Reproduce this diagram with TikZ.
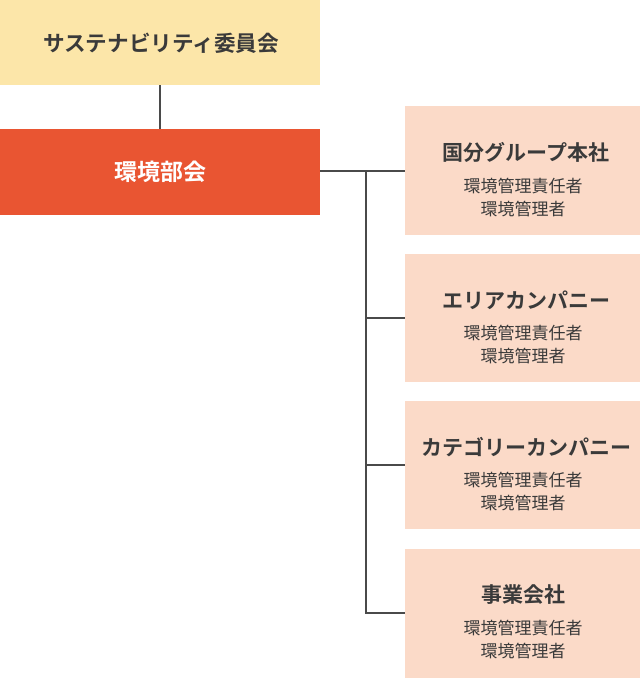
\documentclass[tikz,border=0pt]{standalone}
\usepackage{fontspec}
\setmainfont{Noto Sans CJK JP}
\newfontfamily\jpbold{Noto Sans CJK JP Bold}
\definecolor{cyellow}{HTML}{FCE6A9}
\definecolor{cred}{HTML}{E95532}
\definecolor{cpeach}{HTML}{FBDAC8}
\definecolor{ctext}{HTML}{3A3A3A}
\definecolor{cline}{HTML}{4A4A4A}
\tikzset{
  box/.style={draw=none, inner sep=0pt, outer sep=0pt, anchor=north west},
  ttl/.style={font=\jpbold\fontsize{21}{25}\selectfont, text=ctext},
  sub/.style={font=\fontsize{17}{20}\selectfont, text=ctext},
  conn/.style={draw=cline, line width=1.4pt},
}
\begin{document}
\begin{tikzpicture}[x=1pt,y=-1pt]
\useasboundingbox (0,0) rectangle (640,678);
% top box
\node[box, fill=cyellow, minimum width=320pt, minimum height=85pt] (iinkai) at (0,0) {};
\node[ttl, font=\jpbold\fontsize{21.6}{25}\selectfont] (iinkaiT) at (161,43) {サステナビリティ委員会};
% red box
\node[box, fill=cred, minimum width=320pt, minimum height=86pt] (bukai) at (0,129) {};
\node[ttl, text=white, font=\jpbold\fontsize{23}{26}\selectfont] (bukaiT) at (160,172) {環境部会};
% right boxes
\node[box, fill=cpeach, minimum width=235pt, minimum height=129pt] (b1) at (405,106) {};
\node[box, fill=cpeach, minimum width=235pt, minimum height=128pt] (b2) at (405,254) {};
\node[box, fill=cpeach, minimum width=235pt, minimum height=128pt] (b3) at (405,401) {};
\node[box, fill=cpeach, minimum width=235pt, minimum height=129pt] (b4) at (405,549) {};
% texts
\node[ttl] (t1) at (526,152) {国分グループ本社};
\node[sub] (s1a) at (523,186) {環境管理責任者};
\node[sub] (s1b) at (523,209) {環境管理者};
\node[ttl] (t2) at (526,300) {エリアカンパニー};
\node[sub] (s2a) at (523,333) {環境管理責任者};
\node[sub] (s2b) at (523,356) {環境管理者};
\node[ttl] (t3) at (526,447) {カテゴリーカンパニー};
\node[sub] (s3a) at (523,480) {環境管理責任者};
\node[sub] (s3b) at (523,503) {環境管理者};
\node[ttl] (t4) at (523,595) {事業会社};
\node[sub] (s4a) at (523,628) {環境管理責任者};
\node[sub] (s4b) at (523,651) {環境管理者};
% connectors
\coordinate (j1) at (366,171);
\coordinate (j2) at (366,318);
\coordinate (j3) at (366,465);
\coordinate (j4) at (366,613);
\draw[conn] (iinkai.south) -- (bukai.north);
\draw[conn] (bukai.east |- j1) -- (j1) -- (b1.west |- j1);
\draw[conn] (j1) -- (j4) -- (b4.west |- j4);
\draw[conn] (j2) -- (b2.west |- j2);
\draw[conn] (j3) -- (b3.west |- j3);
\end{tikzpicture}
\end{document}
